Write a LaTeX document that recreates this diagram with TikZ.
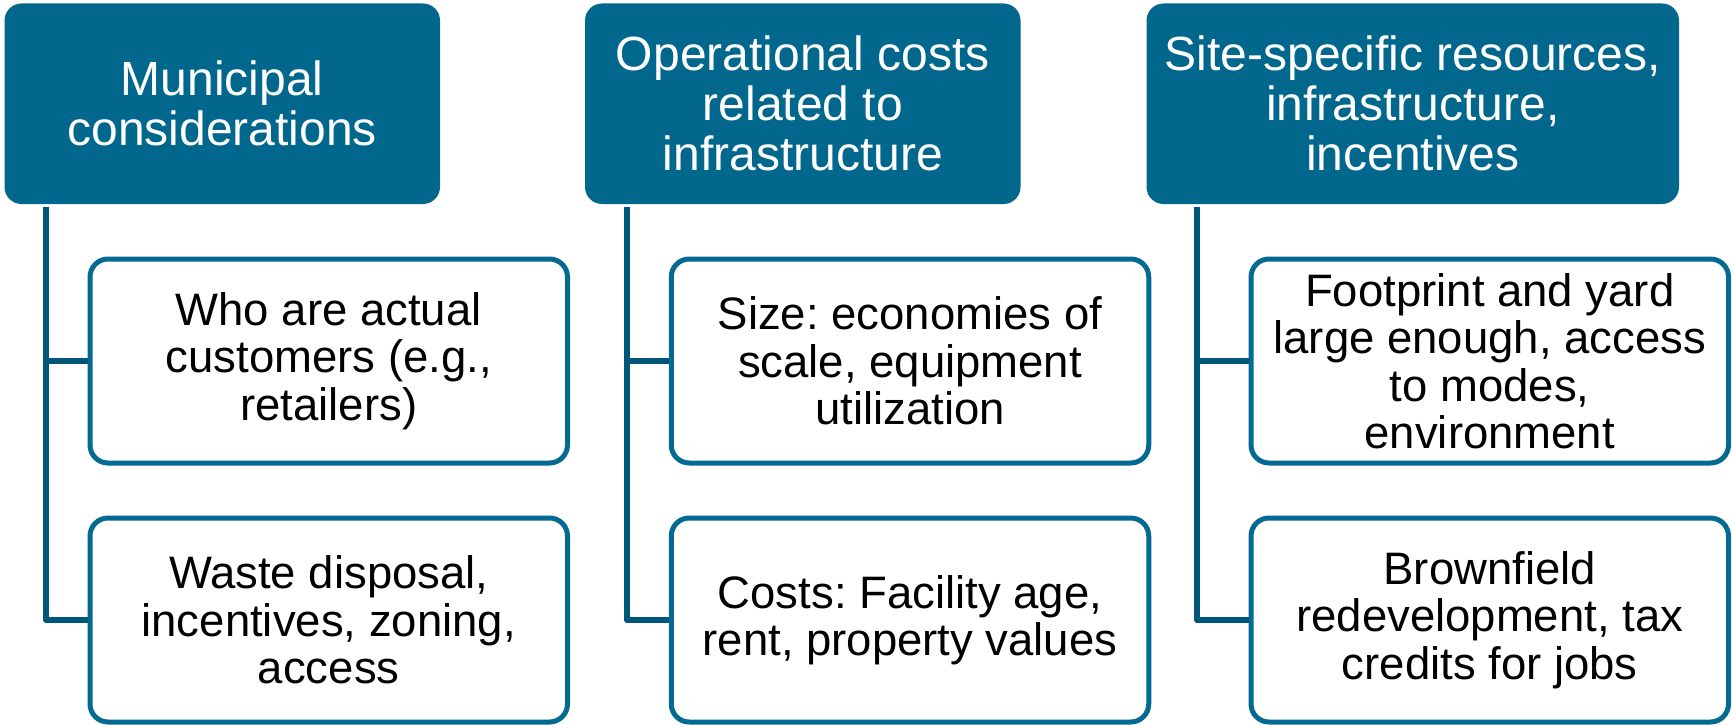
\documentclass[tikz,border=0pt]{standalone}
\usepackage{fontspec}
\setmainfont{Liberation Sans}
\frenchspacing
\definecolor{hdrfill}{RGB}{1,103,141}
\definecolor{kidline}{RGB}{4,106,145}
\definecolor{connline}{RGB}{0,86,120}
\tikzset{
  hdr/.style={draw=none, fill=hdrfill, rounded corners=17pt, text=white, align=center,
    inner sep=0pt, minimum height=200.5pt, font=\fontsize{48}{50}\selectfont},
  kid/.style={draw=kidline, line width=5pt, fill=white, rounded corners=18pt, align=center,
    inner sep=0pt, minimum width=477.5pt, minimum height=204pt, font=\fontsize{45.5}{47.5}\selectfont},
  conn/.style={draw=connline, line width=5.5pt, line join=round}
}
\begin{document}
\begin{tikzpicture}[x=1pt,y=-1pt]
\useasboundingbox (0,0) rectangle (1733,725);
% headers
\node[hdr, minimum width=435.5pt] (h1) at (222.25,103.75) {Municipal\\considerations};
\node[hdr, minimum width=435.5pt] (h2) at (802.75,103.75) {Operational costs\\related to\\infrastructure};
\node[hdr, minimum width=532.5pt] (h3) at (1412.75,103.75) {Site-specific resources,\\infrastructure,\\incentives};
% children
\node[kid] (a1) at (328.75,361) {Who are actual\\customers (e.g.,\\retailers)};
\node[kid] (b1) at (328.75,620) {Waste disposal,\\incentives, zoning,\\access};
\node[kid] (a2) at (910,361) {Size: economies of\\scale, equipment\\utilization};
\node[kid] (b2) at (910,620) {Costs: Facility age,\\rent, property values};
\node[kid] (a3) at (1489.75,361) {Footprint and yard\\large enough, access\\to modes,\\environment};
\node[kid] (b3) at (1489.75,620) {Brownfield\\redevelopment, tax\\credits for jobs};
% connector tops
\coordinate (t1) at (46,207);
\coordinate (t2) at (627,207);
\coordinate (t3) at (1197,207);
% connectors
\draw[conn] (t1) |- (b1.west);
\draw[conn] (a1.west -| t1) -- (a1.west);
\draw[conn] (t2) |- (b2.west);
\draw[conn] (a2.west -| t2) -- (a2.west);
\draw[conn] (t3) |- (b3.west);
\draw[conn] (a3.west -| t3) -- (a3.west);
\end{tikzpicture}
\end{document}
